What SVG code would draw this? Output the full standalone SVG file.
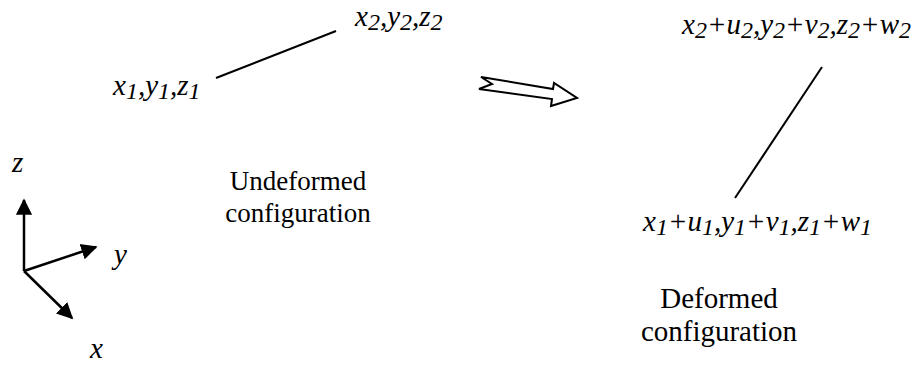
<svg xmlns="http://www.w3.org/2000/svg" width="922" height="365" viewBox="0 0 922 365">
  <style>
    .math { font-family: "Liberation Serif", "Times New Roman", serif; font-style: italic; font-size: 29px; fill: #000; }
    .lbl { font-family: "Liberation Serif", "Times New Roman", serif; font-size: 27px; fill: #000; text-anchor: middle; }
    .lbl.wide { font-size: 29px; }
    .sub { font-size: 24px; }
    .bar { stroke: #000; stroke-width: 2; fill: none; }
    .axis { stroke: #000; stroke-width: 2.5; fill: none; marker-end: url(#head); }
  </style>
  <defs>
    <marker id="head" viewBox="0 0 10 10" refX="9" refY="5" markerWidth="6.5" markerHeight="7" markerUnits="strokeWidth" orient="auto">
      <path d="M0,0 L10,5 L0,10 Z" fill="#000"/>
    </marker>
  </defs>

  <!-- bar elements -->
  <g id="connectors">
    <line class="bar" x1="216" y1="78" x2="336" y2="31"/>
    <line class="bar" x1="735" y1="198" x2="822" y2="67"/>
  </g>

  <!-- undeformed end points -->
  <g id="node-p1">
    <text class="math" x="113" y="95">x<tspan class="sub" dy="4">1</tspan><tspan dy="-4">,y</tspan><tspan class="sub" dy="4">1</tspan><tspan dy="-4">,z</tspan><tspan class="sub" dy="4">1</tspan></text>
  </g>
  <g id="node-p2">
    <text class="math" x="355" y="26">x<tspan class="sub" dy="4">2</tspan><tspan dy="-4">,y</tspan><tspan class="sub" dy="4">2</tspan><tspan dy="-4">,z</tspan><tspan class="sub" dy="4">2</tspan></text>
  </g>

  <!-- deformed end points -->
  <g id="node-q2">
    <text class="math" x="682" y="34">x<tspan class="sub" dy="4">2</tspan><tspan dy="-4">+u</tspan><tspan class="sub" dy="4">2</tspan><tspan dy="-4">,y</tspan><tspan class="sub" dy="4">2</tspan><tspan dy="-4">+v</tspan><tspan class="sub" dy="4">2</tspan><tspan dy="-4">,z</tspan><tspan class="sub" dy="4">2</tspan><tspan dy="-4">+w</tspan><tspan class="sub" dy="4">2</tspan></text>
  </g>
  <g id="node-q1">
    <text class="math" x="643" y="231">x<tspan class="sub" dy="4">1</tspan><tspan dy="-4">+u</tspan><tspan class="sub" dy="4">1</tspan><tspan dy="-4">,y</tspan><tspan class="sub" dy="4">1</tspan><tspan dy="-4">+v</tspan><tspan class="sub" dy="4">1</tspan><tspan dy="-4">,z</tspan><tspan class="sub" dy="4">1</tspan><tspan dy="-4">+w</tspan><tspan class="sub" dy="4">1</tspan></text>
  </g>

  <!-- block arrow between the two states -->
  <g id="transition">
    <polygon points="481,77 492,84 479,89 552,99 551,106 577,98 554,83 553,89" fill="#fff" stroke="#000" stroke-width="2" stroke-linejoin="miter"/>
  </g>

  <!-- captions -->
  <g id="caption-undeformed">
    <text class="lbl" x="298" y="190">Undeformed</text>
    <text class="lbl" x="298" y="222">configuration</text>
  </g>
  <g id="caption-deformed">
    <text class="lbl wide" x="719" y="308">Deformed</text>
    <text class="lbl wide" x="719" y="341">configuration</text>
  </g>

  <!-- coordinate triad -->
  <g id="axes">
    <line class="axis" x1="24" y1="271" x2="24" y2="200"/>
    <line class="axis" x1="24" y1="271" x2="96" y2="247"/>
    <line class="axis" x1="24" y1="271" x2="72" y2="318"/>
    <text class="math" x="12" y="172">z</text>
    <text class="math" x="114" y="264">y</text>
    <text class="math" x="90" y="358">x</text>
  </g>
</svg>
